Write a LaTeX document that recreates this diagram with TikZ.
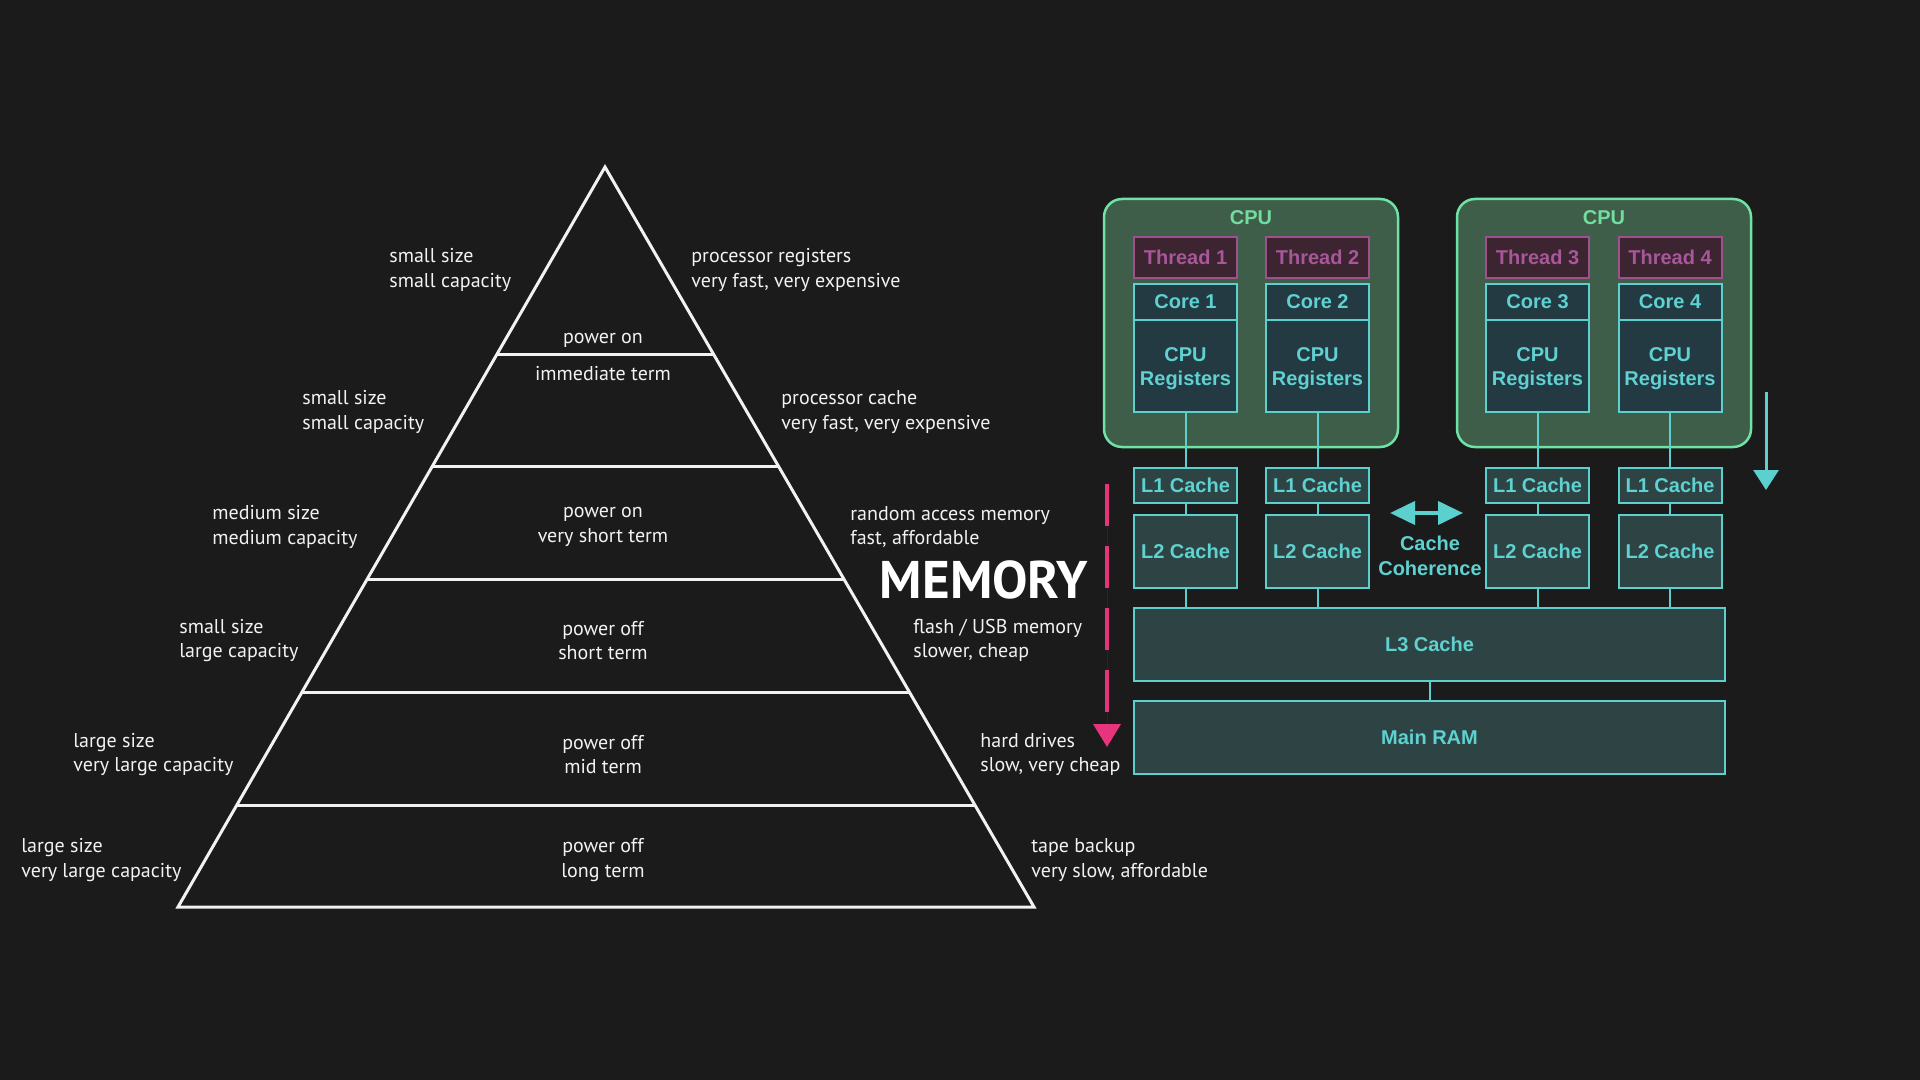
\documentclass[tikz,border=0pt]{standalone}
\usepackage{fontspec}
\setmainfont{PT Sans}
\newfontfamily\boxfont{Liberation Sans}
\usetikzlibrary{arrows.meta,calc}
\definecolor{bg}{HTML}{1B1B1B}
\definecolor{wht}{HTML}{F2F2F2}
\definecolor{cpuf}{HTML}{3F5E4A}
\definecolor{cpub}{HTML}{6FE3A5}
\definecolor{cput}{HTML}{72DDA0}
\definecolor{thrf}{HTML}{3C2431}
\definecolor{thrb}{HTML}{A0508C}
\definecolor{thrt}{HTML}{A7579A}
\definecolor{coref}{HTML}{243A42}
\definecolor{cachef}{HTML}{2E4444}
\definecolor{cyb}{HTML}{5CCFCF}
\definecolor{cyt}{HTML}{5ED1D0}
\definecolor{pnk}{HTML}{E8347C}
\begin{document}
\begin{tikzpicture}[x=0.5pt,y=-0.5pt,
  lbl/.style={text=wht,font=\fontsize{10pt}{12.25pt}\selectfont,align=left,anchor=west,inner sep=0},
  mid/.style={text=wht,font=\fontsize{10pt}{12.25pt}\selectfont,align=center,anchor=center,inner sep=0},
  pyr/.style={draw=wht,line width=1.5pt},
  box/.style={draw=cyb,fill=coref,line width=1pt,inner sep=0,text=cyt,
    font=\boxfont\bfseries\fontsize{10pt}{12pt}\selectfont,align=center,minimum width=51.5pt},
  thread/.style={box,draw=thrb,fill=thrf,text=thrt,minimum height=20.5pt},
  core/.style={box,minimum height=18pt},
  regs/.style={box,minimum height=46pt},
  lone/.style={box,fill=cachef,minimum height=17.5pt},
  ltwo/.style={box,fill=cachef,minimum height=36.5pt},
  wide/.style={box,fill=cachef,minimum width=295.5pt,minimum height=36.5pt},
  cpu/.style={draw=cpub,fill=cpuf,line width=1.25pt,rounded corners=9pt,minimum width=147pt,minimum height=124pt,inner sep=0},
  cpulbl/.style={text=cput,font=\boxfont\bfseries\fontsize{10pt}{12pt}\selectfont,inner sep=0},
  conn/.style={draw=cyb,line width=1pt},
  cyt text/.style={text=cyt,font=\boxfont\bfseries\fontsize{10pt}{12.25pt}\selectfont,align=center,inner sep=0}
]
\path[fill=bg] (0,0) rectangle (1920,1080);

% ---------- pyramid ----------
\coordinate (apex) at (605,167);
\coordinate (bl) at (178,907);
\coordinate (br) at (1034,907);
\draw[pyr,line join=miter] (apex) -- (bl) -- (br) -- cycle;
\foreach \t/\n in {0.254/a,0.4054/b,0.5568/c,0.7095/d,0.8622/e}{
  \coordinate (pl\n) at ($(apex)!\t!(bl)$);
  \coordinate (pr\n) at ($(apex)!\t!(br)$);
  \draw[pyr] (pl\n) -- (pr\n);
}

\node[mid] (t1a) at (603,340.5) {power on};
\node[mid] (t1b) at (603,373.5) {immediate term};
\node[mid] (t3) at (603,527) {power on\\very short term};
\node[mid] (t4) at (603,640.5) {power off\\short term};
\node[mid] (t5) at (603,754.5) {power off\\mid term};
\node[mid] (t6) at (603,860) {power off\\long term};

\node[lbl] (l1) at (389,270) {small size\\small capacity};
\node[lbl] (l2) at (302,412) {small size\\small capacity};
\node[lbl] (l3) at (212,527) {medium size\\medium capacity};
\node[lbl] (l4) at (179,640.5) {small size\\large capacity};
\node[lbl] (l5) at (73,754.5) {large size\\very large capacity};
\node[lbl] (l6) at (21,860) {large size\\very large capacity};

\node[lbl] (r1) at (691,270) {processor registers\\very fast, very expensive};
\node[lbl] (r2) at (781,412) {processor cache\\very fast, very expensive};
\node[lbl] (r3) at (850,527) {random access memory\\fast, affordable};
\node[lbl] (r4) at (913,640.5) {flash / USB memory\\slower, cheap};
\node[lbl] (r5) at (980,754.5) {hard drives\\slow, very cheap};
\node[lbl] (r6) at (1031,860) {tape backup\\very slow, affordable};

\node[text=white,font=\bfseries\fontsize{26.5pt}{26.5pt}\selectfont,inner sep=0] (mem) at (984,580) {MEMORY};

% ---------- CPU diagram ----------
\node[cpu] (cpuA) at (1251,323) {};
\node[cpu] (cpuB) at (1604,323) {};
\node[cpulbl] (cpuAl) at (1251,218) {CPU};
\node[cpulbl] (cpuBl) at (1604,218) {CPU};

\foreach \c/\x/\i in {a/1185.5/1,b/1317.5/2,c/1537.5/3,d/1670/4}{
  \node[thread] (th\c) at (\x,257.5) {Thread \i};
  \node[regs] (rg\c) at (\x,366) {};
  \node[cyt text] (rgt\c) at (\x,368.5) {CPU\\Registers};
  \node[core] (co\c) at (\x,302) {Core \i};
  \node[lone] (la\c) at (\x,485.5) {L1 Cache};
  \node[ltwo] (lb\c) at (\x,551.5) {L2 Cache};
}
\node[wide] (l3c) at (1429.5,644.5) {L3 Cache};
\node[wide] (ram) at (1429.5,737.5) {Main RAM};

\foreach \c in {a,b,c,d}{
  \draw[conn] (rg\c.south) -- (la\c.north);
  \draw[conn] (la\c.south) -- (lb\c.north);
  \draw[conn] (lb\c.south) -- (lb\c.south |- l3c.north);
}
\draw[conn] (l3c.south) -- (ram.north);

% coherence
\coordinate (ccl) at (1390,513);
\coordinate (ccr) at (1463,513);
\draw[draw=cyb,fill=cyb,line width=2pt,{Triangle[width=11.5pt,length=12.5pt]}-{Triangle[width=11.5pt,length=12.5pt]}] (ccl) -- (ccr);
\node[cyt text] (coh) at (1430,556) {Cache\\Coherence};

% right arrow
\coordinate (ra1) at (1766,392);
\coordinate (ra2) at (1766,490);
\draw[draw=cyb,fill=cyb,line width=1.5pt,-{Triangle[width=12.5pt,length=10pt]}] (ra1) -- (ra2);

% pink dashed arrow
\coordinate (pa1) at (1107,484);
\coordinate (pa2) at (1107,747);
\draw[draw=pnk,fill=pnk,line width=2pt,dash pattern=on 21pt off 10pt,-{Triangle[width=13.5pt,length=11.5pt]}] (pa1) -- (pa2);
\end{tikzpicture}
\end{document}
